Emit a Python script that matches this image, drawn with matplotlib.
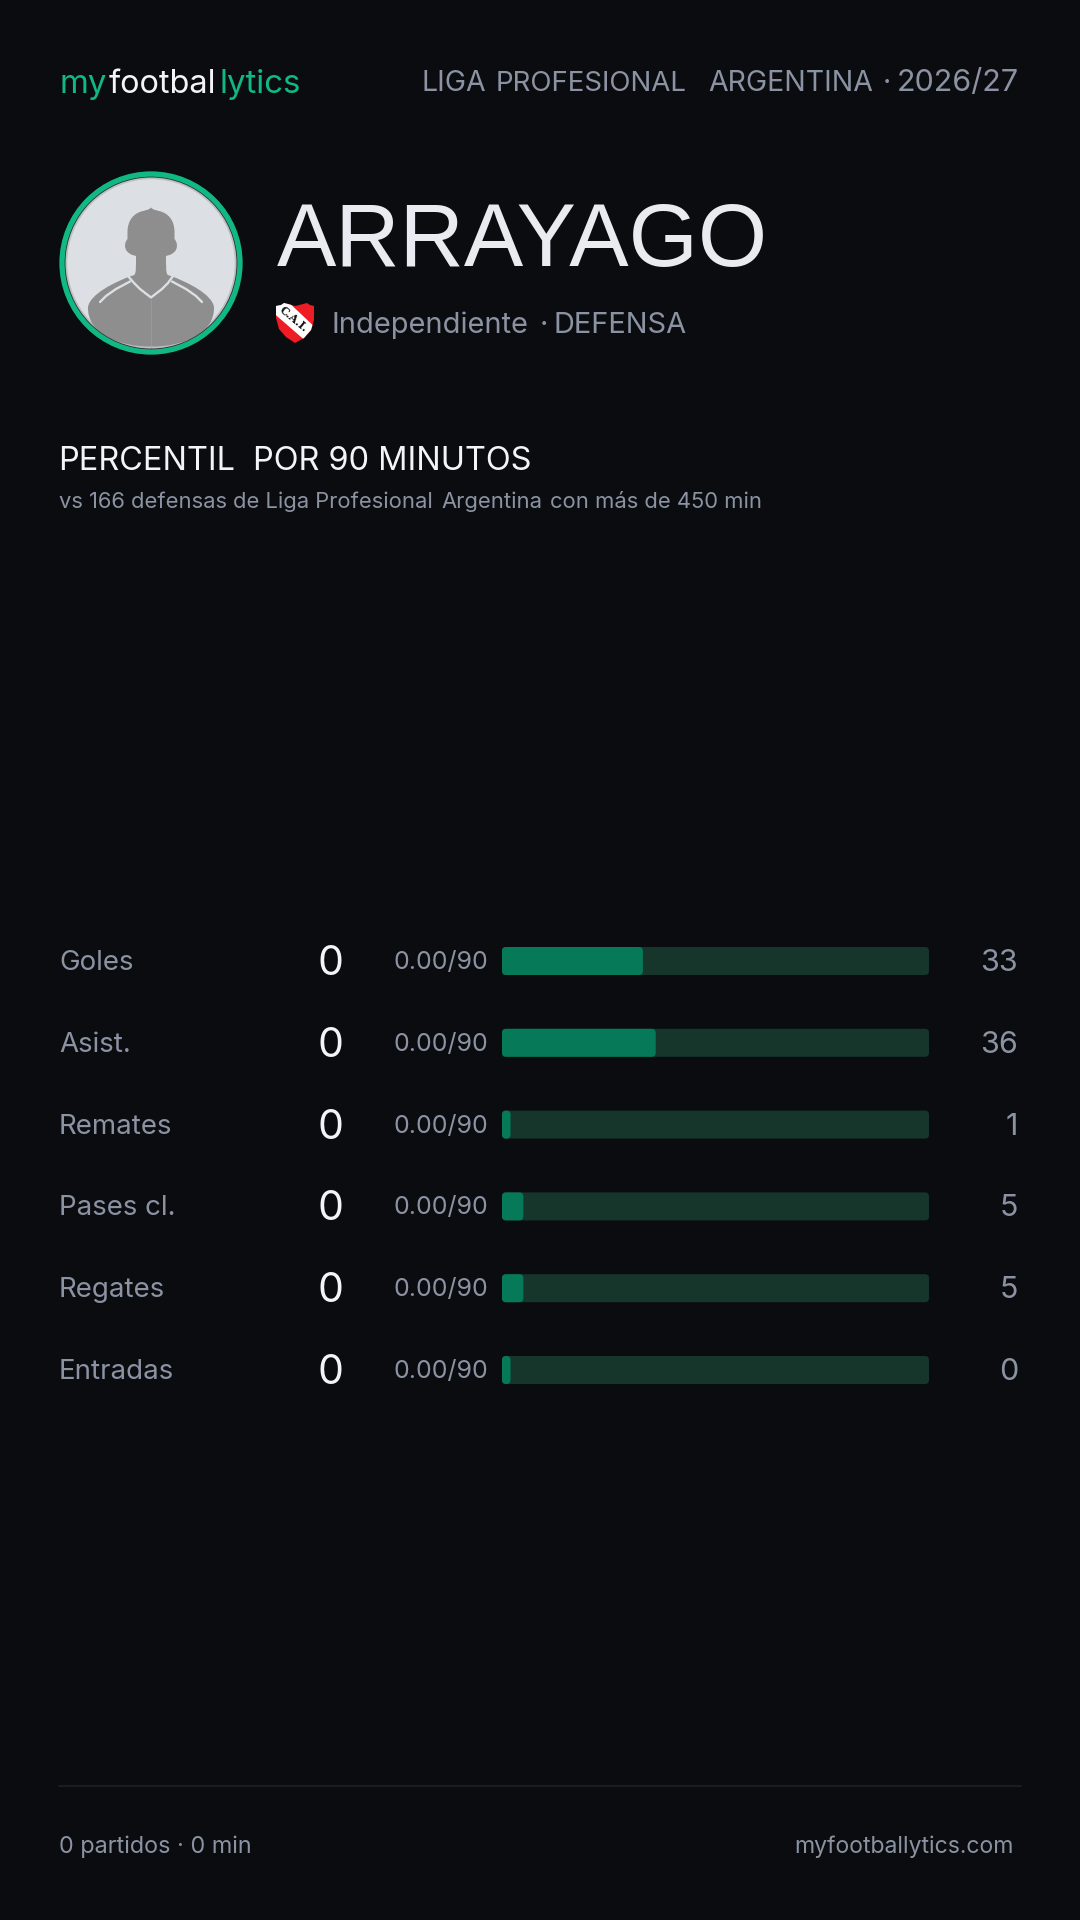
import matplotlib
matplotlib.use("Agg")
import matplotlib.pyplot as plt
from matplotlib.patches import Circle, FancyBboxPatch, Polygon, PathPatch
from matplotlib.path import Path

BG = "#0a0c10"; GREY = "#8b93a3"; WHITE = "#f2f4f7"; GREEN = "#10b981"
TRACK = "#16352b"; FILL = "#067a58"

metrics = ["Goles", "Asist.", "Remates", "Pases cl.", "Regates", "Entradas"]
totals = [0, 0, 0, 0, 0, 0]
per90 = ["0.00/90"] * 6
percentiles = [33, 36, 1, 5, 5, 0]
MIN_BAR = 2

plt.rcParams["font.family"] = ["Inter", "DejaVu Sans"]
fig = plt.figure(figsize=(10.8, 19.2), dpi=100, facecolor=BG)
ax = fig.add_axes([0, 0, 1, 1]); ax.set_xlim(0, 1080); ax.set_ylim(1920, 0); ax.axis("off")

def T(x, y, s, px, color=GREY, ha="left", va="baseline", **kw):
    return ax.text(x, y, s, fontsize=px * 0.72, color=color, ha=ha, va=va, **kw)

# header
T(59, 93, "my", 33, GREEN); T(109, 93, "footbal", 32.5, WHITE); T(220, 93, "lytics", 33, GREEN)
for x, w, s in zip((421, 496, 708, 883, 897), ("LIGA", "PROFESIONAL", "ARGENTINA", "·", "2026/27"), (28.5, 27.7, 28.5, 28.5, 30.5)):
    T(x, 91, w, s, GREY)

# avatar
cx, cy = 151, 263
ax.add_patch(Circle((cx, cy), 87.5, fc="#dcdfe4", ec="none", zorder=2))
clip = Circle((cx, cy), 85.5, transform=ax.transData)
halo = Circle((cx, cy), 85, fc="none", ec="#bdbfc3", lw=1.8, zorder=3); ax.add_patch(halo)
SIL = "#8e8e8e"
M, L, C = Path.MOVETO, Path.LINETO, Path.CURVE4
verts = [(151, 207.5), (149, 210), (146, 210), (143, 211), (134, 213), (127.5, 220), (127.5, 232),
         (127.5, 236), (127.5, 237), (127.5, 239), (124, 243), (124, 250), (129, 253), (131, 255), (133, 255), (136, 256),
         (136, 275), (136, 275), (131, 276), (115, 282), (90, 294), (88, 307),
         (86, 360), (216, 360), (214, 307),
         (212, 294), (187, 282), (171, 276), (166, 275), (166, 275), (166, 256),
         (169, 255), (171, 255), (173, 253), (178, 250), (178, 243), (174.5, 239), (174.5, 237), (174.5, 236), (174.5, 232),
         (174.5, 220), (168, 213), (159, 211), (156, 210), (153, 210), (151, 207.5)]
codes = [M] + [C] * 3 * ((len(verts) - 1) // 3)
codes = codes[:len(verts)]
body = PathPatch(Path(verts, codes), fc=SIL, ec="none", zorder=3); ax.add_patch(body); body.set_clip_path(clip)
LINE = "#dcdfe4"
ax.plot([128, 134, 140, 151, 162, 168, 173], [276, 283, 289, 297.5, 289, 283, 276], color=LINE, lw=1.7, zorder=4)
ax.plot([100, 106, 116, 130], [302, 296, 289, 281.5], color=LINE, lw=1.7, zorder=4, solid_capstyle="round")
ax.plot([202, 196, 186, 172], [302, 296, 289, 281.5], color=LINE, lw=1.7, zorder=4, solid_capstyle="round")
ax.plot([151, 151], [300, 349], color="#a3a3a3", lw=0.4, zorder=4)
ax.add_patch(Circle((cx, cy), 86.3, fc="none", ec="#2b2d30", lw=1.1, zorder=5))
ax.add_patch(Circle((cx, cy), 89, fc="none", ec=GREEN, lw=3.8, zorder=6))

# name
T(277, 266, "ARRAYAGO", 89, "#e9ebf0", family="Liberation Sans")
# shield
shield_xy = [(276, 306), (281, 305), (284, 303), (288, 304), (295.5, 306), (303, 304), (307, 303), (310, 305), (314, 306),
             (314, 320), (311, 330), (304, 338), (295, 343), (286, 337), (279, 329), (276, 318)]
sh = Polygon(shield_xy, closed=True, fc="#ee1c25", ec="none", zorder=3); ax.add_patch(sh)
band = Polygon([(270, 310), (284, 298), (320, 332), (308, 343)], closed=True, fc="white", ec="none", zorder=4)
ax.add_patch(band); band.set_clip_path(sh.get_path(), sh.get_transform())
T(294, 319, "C.A.I.", 11, "#111111", ha="center", va="center", rotation=-40, fontweight="bold", zorder=5, family="DejaVu Serif", rotation_mode="anchor")
for x, w in zip((331, 540, 554), ("Independiente", "·", "DEFENSA")):
    T(x, 333, w, 29, GREY)

# titles
for x, w in zip((58, 253), ("PERCENTIL", "POR 90 MINUTOS")):
    T(x, 469.5, w, 32.5, WHITE)
for x, w in zip((59, 233, 441, 550), ("vs 166 defensas", "de Liga Profesional", "Argentina", "con más de 450 min")):
    T(x, 507.5, w, 22, GREY)

# rows
rows_y = [960, 1042, 1124, 1205, 1287, 1369]
for i, m in enumerate(metrics):
    y = rows_y[i]
    T(59, y, m, 27.7, GREY, va="center_baseline")
    T(330, y, str(totals[i]), 41, WHITE, ha="center", va="center_baseline")
    T(488, y, per90[i], 25, GREY, ha="right", va="center_baseline")
    T(1018, y, str(percentiles[i]), 30.5, GREY, ha="right", va="center_baseline")

# bars through a data axes: x = percentile, y = row index
top, bottom = 920.1, 1410.9
bar_ax = fig.add_axes([502 / 1080, 1 - bottom / 1920, 427 / 1080, (bottom - top) / 1920])
bar_ax.set_xlim(0, 100); bar_ax.set_ylim(len(metrics) - 0.5, -0.5); bar_ax.axis("off")
h = 28 / 81.8
xpx = 100 / 427; ypx = 6 / (bottom - top)
for i, v in enumerate(percentiles):
    for val, col, z in ((100, TRACK, 2), (max(v, MIN_BAR), FILL, 3)):
        bar_ax.add_patch(FancyBboxPatch((0, i - h / 2), val, h, boxstyle=f"round,pad=0,rounding_size={4 * xpx}",
                                        mutation_aspect=ypx / xpx, fc=col, ec="none", zorder=z))

# footer
ax.plot([59, 1021], [1786, 1786], color="#1d2026", lw=1.2)
T(59, 1853, "0 partidos · 0 min", 23.4, GREY)
T(1014, 1853, "myfootballytics.com", 23, GREY, ha="right")

fig.savefig("out.png", dpi=100, facecolor=BG)
